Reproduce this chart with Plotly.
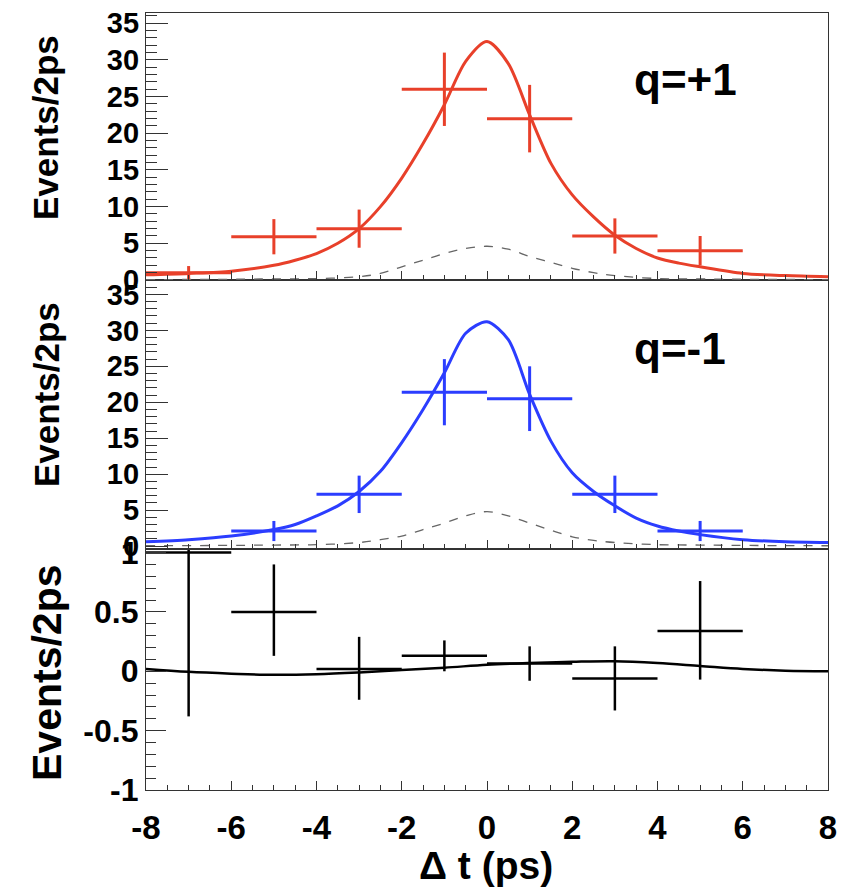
import plotly.graph_objects as go

# binned data (bin width 2 ps), centres
bin_x = [-7, -5, -3, -1, 1, 3, 5]
bin_halfwidth = [1, 1, 1, 1, 1, 1, 1]

plus_y = [1.0, 5.9, 7.0, 26.0, 22.0, 6.0, 4.0]
plus_err = [0.9, 2.4, 2.6, 5.0, 4.6, 2.4, 2.0]

minus_x = [-5, -3, -1, 1, 3, 5]
minus_y = [2.1, 7.2, 21.4, 20.5, 7.2, 2.1]
minus_err = [1.4, 2.6, 4.6, 4.5, 2.6, 1.4]
minus_halfwidth = [1, 1, 1, 1, 1, 1]

diff_y = [1.0, 0.5, 0.02, 0.13, 0.065, -0.06, 0.34]
diff_err_up = [0.03, 0.4, 0.27, 0.13, 0.145, 0.27, 0.42]
diff_err_down = [1.38, 0.37, 0.26, 0.13, 0.145, 0.27, 0.41]

# fit curves
curve_x = [-8, -7, -6, -5, -4.5, -4, -3.5, -3, -2.5, -2, -1.5, -1, -0.5, 0,
           0.5, 1, 1.5, 2, 2.5, 3, 3.5, 4, 4.5, 5, 6, 7, 8]
plus_fit = [0.7, 0.9, 1.2, 2.0, 2.7, 3.6, 5.0, 7.0, 10.0, 13.9, 18.6, 23.9, 29.8, 32.5,
            29.5, 22.5, 15.9, 11.6, 8.6, 6.1, 4.3, 3.0, 2.3, 1.8, 0.9, 0.6, 0.45]
minus_fit = [0.6, 0.9, 1.4, 2.3, 3.0, 4.2, 5.6, 7.6, 10.4, 14.4, 19.0, 24.1, 29.6, 31.2,
             28.7, 21.1, 14.6, 10.2, 7.6, 5.6, 3.9, 2.8, 2.1, 1.6, 0.9, 0.6, 0.5]

bkg_x = [-8, -6, -5, -4, -3, -2.5, -2, -1.5, -1, -0.5, 0,
         0.5, 1, 1.5, 2, 2.5, 3, 4, 5, 6, 8]
plus_bkg = [0.05, 0.1, 0.15, 0.2, 0.45, 0.9, 1.8, 2.7, 3.6, 4.3, 4.6,
            4.2, 3.2, 2.4, 1.6, 1.0, 0.6, 0.2, 0.15, 0.1, 0.05]
minus_bkg = [0.05, 0.1, 0.15, 0.2, 0.5, 0.9, 1.4, 2.3, 3.2, 4.2, 4.8,
             4.2, 3.2, 2.2, 1.3, 0.8, 0.5, 0.2, 0.15, 0.1, 0.05]

diff_curve_x = [-8, -7, -6, -5, -4, -3, -2, -1, 0, 1, 2, 3, 4, 5, 6, 7, 8]
diff_fit = [0.02, -0.005, -0.02, -0.03, -0.025, -0.01, 0.01, 0.03, 0.055,
            0.07, 0.08, 0.085, 0.07, 0.045, 0.02, 0.005, 0.0]

x_ticks = [-8, -6, -4, -2, 0, 2, 4, 6, 8]
x_ticktext = ['-8', '-6', '-4', '-2', '0', '2', '4', '6', '8']
count_ticks = [0, 5, 10, 15, 20, 25, 30, 35]
diff_ticks = [-1, -0.5, 0, 0.5, 1]
diff_ticktext = ['-1', '-0.5', '0', '0.5', '1']

RED = '#e8402a'
BLUE = '#2b3dff'
FONT = 'Liberation Sans'

fig = go.Figure()

# top panel q=+1
fig.add_trace(go.Scatter(x=bkg_x, y=plus_bkg, mode='lines', line_shape='spline',
                         line=dict(color='#666666', width=1.3, dash='dash'),
                         xaxis='x3', yaxis='y3'))
fig.add_trace(go.Scatter(x=curve_x, y=plus_fit, mode='lines', line_shape='spline',
                         line=dict(color=RED, width=3, smoothing=0.8), xaxis='x3', yaxis='y3'))
fig.add_trace(go.Scatter(x=bin_x, y=plus_y, mode='markers', marker=dict(size=1, color=RED),
                         error_x=dict(type='data', array=bin_halfwidth, width=0, thickness=3, color=RED),
                         error_y=dict(type='data', array=plus_err, width=0, thickness=3, color=RED),
                         xaxis='x3', yaxis='y3'))

# middle panel q=-1
fig.add_trace(go.Scatter(x=bkg_x, y=minus_bkg, mode='lines', line_shape='spline',
                         line=dict(color='#666666', width=1.3, dash='dash'),
                         xaxis='x2', yaxis='y2'))
fig.add_trace(go.Scatter(x=curve_x, y=minus_fit, mode='lines', line_shape='spline',
                         line=dict(color=BLUE, width=3, smoothing=0.8), xaxis='x2', yaxis='y2'))
fig.add_trace(go.Scatter(x=minus_x, y=minus_y, mode='markers', marker=dict(size=1, color=BLUE),
                         error_x=dict(type='data', array=minus_halfwidth, width=0, thickness=3, color=BLUE),
                         error_y=dict(type='data', array=minus_err, width=0, thickness=3, color=BLUE),
                         xaxis='x2', yaxis='y2'))

# bottom panel
fig.add_trace(go.Scatter(x=diff_curve_x, y=diff_fit, mode='lines', line_shape='spline',
                         line=dict(color='black', width=2.5), xaxis='x', yaxis='y'))
fig.add_trace(go.Scatter(x=bin_x, y=diff_y, mode='markers', marker=dict(size=1, color='black'),
                         error_x=dict(type='data', array=bin_halfwidth, width=0, thickness=2.5, color='black'),
                         error_y=dict(type='data', symmetric=False, array=diff_err_up,
                                      arrayminus=diff_err_down, width=0, thickness=2.5, color='black'),
                         xaxis='x', yaxis='y'))

# page body has an 8px offset, so margins are shifted by that
L, R, T, B = 138, 33, 5, 108
H = 890.0 - T - B
W = 853.0 - L - R
d_bot = [0, 241 / H]
d_mid = [241 / H, 510 / H]
d_top = [510 / H, 1]

xbase = dict(range=[-8, 8], showline=True, mirror=True, linecolor='#333333', linewidth=1.2,
             ticks='inside', ticklen=9, tickwidth=1.2, tickcolor='#333333',
             tickvals=x_ticks, ticktext=x_ticktext,
             minor=dict(ticks='inside', ticklen=5, dtick=0.5, tickcolor='#333333'),
             showgrid=False, zeroline=False, automargin=False)
ybase = dict(showline=True, mirror=True, linecolor='#333333', linewidth=1.2,
             ticks='inside', ticklen=22, tickwidth=1.2, tickcolor='#333333',
             showgrid=False, zeroline=False, ticklabelstandoff=0, automargin=False,
             ticklabeloverflow='allow')

fig.update_layout(
    width=853, height=890,
    margin=dict(l=L, r=R, t=T, b=B),
    plot_bgcolor='white', paper_bgcolor='white',
    showlegend=False,
    xaxis=dict(xbase, anchor='y', showticklabels=True, ticklabelstandoff=8,
               ticklabeloverflow='allow',
               tickfont=dict(family=FONT, size=33, color='black', weight='bold')),
    xaxis2=dict(xbase, anchor='y2', matches='x', showticklabels=False),
    xaxis3=dict(xbase, anchor='y3', matches='x', showticklabels=False),
    yaxis=dict(ybase, domain=d_bot, anchor='x', range=[-1.0, 1.03],
               tickvals=diff_ticks, ticktext=diff_ticktext,
               ticklen=20, minor=dict(ticks='inside', ticklen=10, dtick=0.1, tickcolor='#333333'),
               tickfont=dict(family=FONT, size=32, color='black', weight='bold')),
    yaxis2=dict(ybase, domain=d_mid, anchor='x2', range=[-0.4, 37.0], tickvals=count_ticks,
                minor=dict(ticks='inside', ticklen=11, dtick=1, tickcolor='#333333'),
                tickfont=dict(family=FONT, size=29, color='black', weight='bold')),
    yaxis3=dict(ybase, domain=d_top, anchor='x3', range=[0, 36.4], tickvals=count_ticks,
                minor=dict(ticks='inside', ticklen=11, dtick=1, tickcolor='#333333'),
                tickfont=dict(family=FONT, size=29, color='black', weight='bold')),
)


# reference picture pixels -> paper coordinates
def px_x(p):
    return (p - 8 - L) / W


def px_y(p):
    return (890 - B - (p - 8)) / H


ann_font = dict(family=FONT, color='black', weight='bold')
common = dict(xref='paper', yref='paper', showarrow=False, xanchor='center', yanchor='middle')
fig.add_annotation(text='Events/2ps', textangle=-90, x=px_x(46), y=px_y(128), font=dict(ann_font, size=35), **common)
fig.add_annotation(text='Events/2ps', textangle=-90, x=px_x(46), y=px_y(395), font=dict(ann_font, size=35), **common)
fig.add_annotation(text='Events/2ps', textangle=-90, x=px_x(47), y=px_y(673), font=dict(ann_font, size=41), **common)
fig.add_annotation(text='Δ t (ps)', x=px_x(486), y=px_y(865), font=dict(ann_font, size=39), **common)
fig.add_annotation(text='q=+1', x=px_x(685), y=px_y(80), font=dict(ann_font, size=44), **common)
fig.add_annotation(text='q=-1', x=px_x(680), y=px_y(348), font=dict(ann_font, size=44), **common)

fig.write_html("out.html")
